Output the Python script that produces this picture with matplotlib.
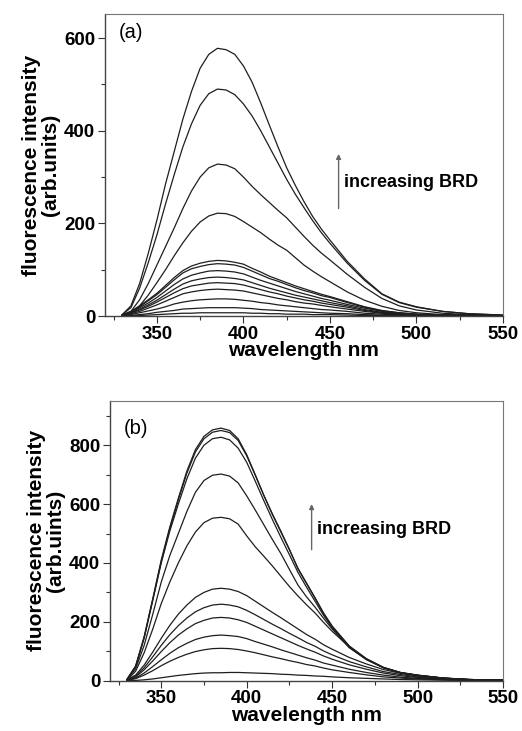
import numpy as np
import matplotlib
matplotlib.use("Agg")
import matplotlib.pyplot as plt
from matplotlib.ticker import MultipleLocator

plt.rcParams['font.family'] = ['Liberation Sans', 'DejaVu Sans']

# ---------------------- data ----------------------
WAVELENGTH = [330, 335, 340, 345, 350, 355, 360, 365, 370, 375, 380, 385, 390,
              395, 400, 405, 410, 415, 420, 425, 430, 435, 440, 445, 450, 460,
              470, 480, 490, 500, 515, 530, 550]

# panel (a), from highest to lowest BRD
a1 = [3, 22, 70, 135, 207, 285, 355, 425, 485, 535, 565, 578, 575, 565, 540, 505, 460, 412, 365, 320, 282, 247, 215, 188, 164, 118, 80, 48, 30, 20, 10, 5, 2]
a2 = [3, 18, 60, 115, 175, 242, 305, 365, 415, 455, 480, 490, 488, 478, 458, 432, 400, 365, 330, 295, 263, 234, 206, 180, 157, 114, 77, 47, 29, 19, 10, 5, 2]
a3 = [2, 10, 35, 70, 110, 150, 190, 232, 270, 300, 320, 328, 326, 318, 300, 280, 262, 245, 228, 212, 192, 172, 153, 136, 121, 90, 62, 38, 22, 13, 6, 3, 1]
a4 = [1, 6, 22, 45, 72, 100, 130, 158, 183, 203, 216, 222, 221, 215, 204, 192, 180, 166, 153, 142, 126, 110, 97, 85, 74, 52, 34, 21, 12, 7, 3, 2, 1]
a5 = [2, 10, 22, 35, 49, 66, 83, 98, 108, 114, 118, 120, 119, 116, 112, 103, 95, 86, 79, 72, 65, 59, 53, 47, 42, 31, 20, 12, 7, 4, 2, 1, 0]
a6 = [2, 9, 20, 33, 46, 62, 78, 93, 102, 107, 111, 113, 112, 110, 105, 97, 89, 81, 75, 68, 61, 55, 50, 44, 40, 29, 19, 11, 7, 4, 2, 1, 0]
a7 = [2, 8, 18, 28, 40, 54, 68, 80, 88, 93, 97, 98, 97, 95, 91, 84, 77, 71, 65, 59, 53, 48, 43, 38, 34, 25, 17, 10, 6, 3, 2, 1, 0]
a8 = [2, 7, 15, 24, 34, 46, 58, 69, 76, 80, 83, 84, 83, 81, 78, 72, 66, 60, 55, 50, 45, 41, 37, 33, 29, 22, 14, 8, 5, 3, 1, 1, 0]
a9 = [1, 6, 13, 21, 30, 40, 50, 59, 65, 68, 71, 72, 71, 70, 67, 62, 57, 52, 48, 43, 39, 35, 32, 28, 25, 19, 12, 7, 4, 3, 1, 1, 0]
a10 = [1, 5, 10, 17, 24, 32, 40, 48, 52, 55, 57, 58, 57, 56, 54, 50, 46, 42, 38, 35, 31, 28, 26, 23, 20, 15, 10, 6, 3, 2, 1, 0, 0]
a11 = [1, 3, 7, 11, 15, 20, 26, 30, 33, 35, 36, 37, 37, 36, 34, 32, 29, 27, 24, 22, 20, 18, 16, 14, 13, 10, 6, 4, 2, 1, 1, 0, 0]
a12 = [0, 1, 3, 5, 8, 10, 12, 15, 16, 17, 18, 18, 18, 18, 17, 16, 14, 13, 12, 11, 10, 9, 8, 7, 6, 5, 3, 2, 1, 1, 0, 0, 0]
a13 = [0, 1, 1, 2, 3, 4, 5, 6, 6, 7, 7, 7, 7, 7, 7, 6, 6, 5, 5, 4, 4, 4, 3, 3, 3, 2, 1, 1, 0, 0, 0, 0, 0]
CURVES_A = [a1, a2, a3, a4, a5, a6, a7, a8, a9, a10, a11, a12, a13]

# panel (b)
b1 = [5, 50, 150, 278, 410, 522, 620, 712, 785, 830, 852, 858, 850, 822, 768, 700, 630, 565, 505, 445, 382, 332, 282, 230, 186, 118, 75, 45, 28, 19, 9, 4, 2]
b2 = [5, 48, 146, 274, 405, 516, 614, 705, 777, 822, 844, 850, 843, 816, 764, 698, 630, 567, 508, 446, 380, 330, 280, 228, 184, 117, 74, 45, 28, 19, 9, 4, 2]
b3 = [5, 48, 145, 272, 400, 508, 600, 686, 756, 800, 822, 827, 818, 790, 742, 678, 612, 548, 487, 428, 368, 318, 270, 222, 180, 115, 72, 44, 27, 18, 9, 4, 2]
b4 = [4, 40, 120, 225, 335, 425, 500, 575, 640, 680, 698, 702, 695, 672, 628, 580, 530, 480, 432, 378, 325, 285, 250, 212, 176, 112, 72, 44, 27, 18, 9, 4, 2]
b5 = [3, 32, 95, 175, 262, 335, 400, 458, 505, 537, 552, 555, 550, 532, 492, 455, 423, 390, 355, 320, 288, 258, 230, 198, 168, 115, 74, 45, 27, 18, 8, 4, 2]
b6 = [3, 19, 53, 97, 144, 188, 226, 257, 283, 300, 311, 314, 311, 303, 289, 270, 251, 232, 214, 195, 176, 157, 141, 122, 107, 79, 57, 38, 25, 16, 8, 4, 2]
b7 = [3, 16, 44, 81, 120, 156, 187, 213, 234, 248, 257, 260, 257, 251, 239, 224, 208, 192, 177, 161, 146, 130, 117, 101, 88, 65, 47, 31, 21, 13, 7, 3, 1]
b8 = [2, 13, 37, 67, 99, 129, 155, 176, 194, 205, 213, 215, 213, 207, 198, 185, 172, 159, 146, 133, 120, 108, 97, 84, 73, 54, 39, 26, 17, 11, 5, 3, 1]
b9 = [2, 9, 26, 48, 71, 93, 112, 127, 140, 148, 153, 155, 153, 150, 143, 133, 124, 115, 105, 96, 87, 78, 70, 60, 53, 39, 28, 19, 12, 8, 4, 2, 1]
b10 = [1, 7, 19, 34, 51, 66, 79, 90, 99, 105, 109, 110, 109, 106, 101, 95, 88, 81, 75, 68, 62, 55, 50, 43, 37, 28, 20, 13, 9, 6, 3, 1, 1]
b11 = [0, 1, 3, 6, 10, 14, 18, 21, 24, 26, 27, 27, 28, 28, 27, 26, 25, 24, 22, 21, 19, 18, 16, 15, 13, 10, 8, 6, 4, 3, 2, 1, 0]
CURVES_B = [b1, b2, b3, b4, b5, b6, b7, b8, b9, b10, b11]

# ---------------------- plotting ----------------------
LINE_COLOR = "#1e1e1e"
FRAME_COLOR = "#444444"


def style_axes(ax, ymax, ylabel):
    ax.set_xlim(320, 550)
    ax.set_ylim(0, ymax)
    ax.xaxis.set_major_locator(MultipleLocator(50))
    ax.xaxis.set_minor_locator(MultipleLocator(25))
    ax.yaxis.set_major_locator(MultipleLocator(200))
    ax.yaxis.set_minor_locator(MultipleLocator(100))
    ax.tick_params(which="both", direction="out", top=False, right=False,
                   color="#333333", width=0.8)
    ax.tick_params(which="major", length=5, labelsize=13.5, pad=2)
    ax.tick_params(which="minor", length=3)
    for lab in ax.get_xticklabels() + ax.get_yticklabels():
        lab.set_fontweight("bold")
    for side in ["top", "right"]:
        ax.spines[side].set_color("#777777")
        ax.spines[side].set_linewidth(0.8)
    for side in ["left", "bottom"]:
        ax.spines[side].set_color(FRAME_COLOR)
        ax.spines[side].set_linewidth(1.0)
    ax.set_xlabel("wavelength nm", fontsize=15, fontweight="bold", labelpad=-1)
    ax.set_ylabel(ylabel, fontsize=15, fontweight="bold", labelpad=3,
                  linespacing=1.0)


fig = plt.figure(figsize=(5.22, 7.31), dpi=100)
ax_a = fig.add_axes([0.2011, 0.5677, 0.7625, 0.4131])
ax_b = fig.add_axes([0.2107, 0.0688, 0.7529, 0.3826])

for y in CURVES_A:
    ax_a.plot(WAVELENGTH, y, color=LINE_COLOR, linewidth=0.9)
for y in CURVES_B:
    ax_b.plot(WAVELENGTH, y, color=LINE_COLOR, linewidth=0.9)

style_axes(ax_a, 652, "fluorescence intensity\n(arb.units)")
style_axes(ax_b, 950, "fluorescence intensity\n(arb.uints)")

ax_a.text(328, 612, "(a)", fontsize=14.5, va="center", ha="left")
ax_b.text(328, 858, "(b)", fontsize=14.5, va="center", ha="left")

arrow_kw = dict(arrowstyle="-|>", color="#666666", lw=1.0, mutation_scale=7,
                shrinkA=0, shrinkB=0)
ax_a.annotate("", xy=(455, 350), xytext=(455, 232), arrowprops=arrow_kw)
ax_a.text(458, 288, "increasing BRD", fontsize=13, fontweight="bold",
          va="center", ha="left")
ax_b.annotate("", xy=(438, 600), xytext=(438, 445), arrowprops=arrow_kw)
ax_b.text(441, 514, "increasing BRD", fontsize=13, fontweight="bold",
          va="center", ha="left")

plt.savefig("out.png", dpi=100)
plt.close()
